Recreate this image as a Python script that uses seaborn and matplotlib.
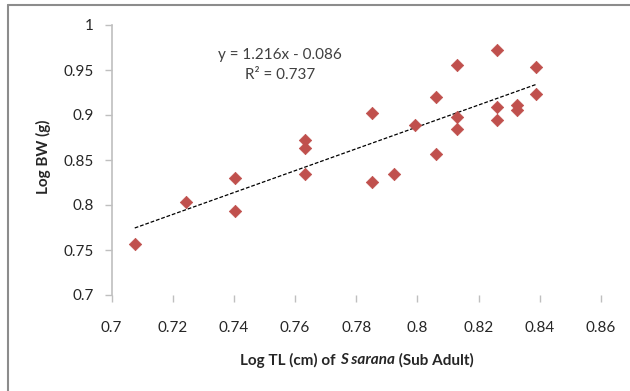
import matplotlib
matplotlib.use("Agg")
import matplotlib.pyplot as plt
import seaborn as sns
import numpy as np
import pandas as pd
from matplotlib.lines import Line2D

# ---- data ----
log_tl = [0.7076, 0.7243, 0.7404, 0.7404, 0.7634, 0.7634, 0.7634, 0.7853, 0.7853,
          0.7924, 0.7993, 0.8062, 0.8062, 0.8129, 0.8129, 0.8129, 0.8261, 0.8261,
          0.8261, 0.8325, 0.8325, 0.8388, 0.8388]
log_bw = [0.757, 0.803, 0.830, 0.793, 0.872, 0.863, 0.834, 0.902, 0.826,
          0.834, 0.889, 0.920, 0.857, 0.956, 0.898, 0.884, 0.972, 0.909,
          0.895, 0.911, 0.906, 0.953, 0.923]
slope, intercept = 1.216, -0.086
x_ticks = [0.70, 0.72, 0.74, 0.76, 0.78, 0.80, 0.82, 0.84, 0.86]
x_tick_labels = ["0.7", "0.72", "0.74", "0.76", "0.78", "0.8", "0.82", "0.84", "0.86"]
y_ticks = [0.70, 0.75, 0.80, 0.85, 0.90, 0.95, 1.00]
y_tick_labels = ["0.7", "0.75", "0.8", "0.85", "0.9", "0.95", "1"]

sns.set_style("white")
plt.rcParams['font.family'] = ['Lato', 'DejaVu Sans']

FS = 11
W, H = 630, 391
fig = plt.figure(figsize=(W / 100, H / 100), dpi=100)
L, R, T, B = 111.5, 601, 25, 295
ax = fig.add_axes([L / W, 1 - B / H, (R - L) / W, (B - T) / H])

df = pd.DataFrame({"x": log_tl, "y": log_bw})
sns.scatterplot(data=df, x="x", y="y", marker="D", s=40, color="#C0504D",
                edgecolor="#C0504D", linewidth=0.5, ax=ax, zorder=3)

xr = np.array([min(log_tl), max(log_tl)])
trend = pd.DataFrame({"x": xr, "y": slope * xr + intercept})
sns.lineplot(data=trend, x="x", y="y", color="black", linestyle=(0, (3, 1.5)),
             linewidth=0.9, ax=ax, zorder=2)

ax.set_xlim(0.70, 0.86)
ax.set_ylim(0.70, 1.00)
ax.set_xticks(x_ticks)
ax.set_xticklabels(x_tick_labels)
ax.set_yticks(y_ticks)
ax.set_yticklabels(y_tick_labels)

for s in ["top", "right", "bottom"]:
    ax.spines[s].set_visible(False)
ax.spines["left"].set_color("#bfbfbf")
ax.spines["left"].set_linewidth(1.2)
ax.tick_params(axis="both", which="major", direction="out", length=5, width=1,
               color="#bfbfbf", labelsize=FS, labelcolor="#262626",
               bottom=True, left=True)
ax.tick_params(axis="x", pad=14)
ax.tick_params(axis="y", pad=8)
ax.set_xlabel("")
ax.set_ylabel("")

# equation text
fig.text(280 / W, 1 - 55 / H, "y = 1.216x - 0.086", fontsize=FS, color="#404040",
         ha="center", va="center")
fig.text(280 / W, 1 - 75 / H, "R² = 0.737", fontsize=FS, color="#404040",
         ha="center", va="center")

# y label
fig.text(43 / W, 1 - 157 / H, "Log BW (g)", rotation=90, fontsize=FS,
         fontweight="bold", color="#262626", ha="center", va="center")

# x label with italic part
parts = [("Log TL (cm) of ", "normal"), ("S sarana", "italic"), (" (Sub Adult)", "normal")]
ylab = 1 - 360 / H
texts = []
for txt, st in parts:
    t = fig.text(0, ylab, txt, fontsize=FS, fontweight="bold", style=st,
                 color="#262626", ha="left", va="center")
    texts.append(t)
fig.canvas.draw()
renderer = fig.canvas.get_renderer()
widths = [t.get_window_extent(renderer).width for t in texts]
total = sum(widths)
x0 = 357 - total / 2
for t, w in zip(texts, widths):
    t.set_x(x0 / W)
    x0 += w

# outer chart border (left and top visible)
fig.add_artist(Line2D([8 / W, 8 / W], [0, 1 - 5 / H], color="#8c8c8c", linewidth=1.5,
                      transform=fig.transFigure))
fig.add_artist(Line2D([8 / W, 1], [1 - 5 / H, 1 - 5 / H], color="#8c8c8c", linewidth=1.5,
                      transform=fig.transFigure))

fig.savefig("out.png", dpi=100)
